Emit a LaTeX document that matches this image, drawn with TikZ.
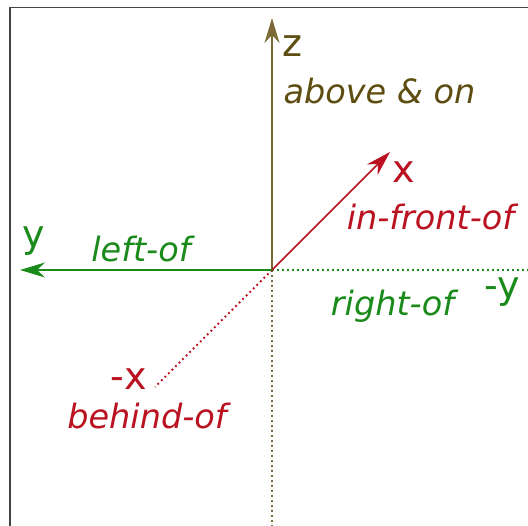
\documentclass[tikz,border=0pt]{standalone}
\usepackage{fontspec}
\setmainfont{DejaVu Sans}
\usetikzlibrary{arrows.meta}
\definecolor{zbrown}{HTML}{5E4D10}
\definecolor{zline}{HTML}{7A6A35}
\definecolor{xred}{HTML}{BA1220}
\definecolor{ygreen}{HTML}{1A8A1A}
\definecolor{framegray}{HTML}{444444}
\tikzset{
  axisline/.style={line width=1.6pt,-{Stealth[length=25pt,width=15pt,inset=8pt]}},
  negline/.style={line width=2pt,dash pattern=on 1.8pt off 3.2pt},
  axislabel/.style={inner sep=0pt,font=\fontsize{38}{41}\selectfont},
  rellabel/.style={inner sep=0pt,font=\fontsize{33.5}{37}\selectfont\itshape},
}
\begin{document}
\begin{tikzpicture}[x=1pt,y=1pt]
\useasboundingbox (-272,-256) rectangle (256,270);
\fill[white] (-272,-256) rectangle (256,270);
% frame
\draw[framegray,line width=1.1pt] (-262,-256) -- (-262,262.5) -- (256,262.5);
\coordinate (o) at (0,0);
\coordinate (zt) at (0,252);
\coordinate (zb) at (0,-256);
\coordinate (yt) at (-252,0);
\coordinate (yb) at (256,0);
\coordinate (xt) at (118,118);
\coordinate (xb) at (-117,-117);
% negative (dotted) halves
\draw[negline,zline] (o) -- (zb);
\draw[negline,ygreen] (o) -- (yb);
\draw[negline,xred] (o) -- (xb);
% positive axes
\draw[axisline,zline] (o) -- (zt);
\draw[axisline,ygreen] (o) -- (yt);
\draw[axisline,xred] (o) -- (xt);
% labels
\node[axislabel,text=zbrown] (lz) at (20.5,224) {z};
\node[rellabel,text=zbrown] (labove) at (107.5,178.5) {above \& on};
\node[axislabel,text=xred] (lx) at (132,98) {x};
\node[rellabel,text=xred] (lfront) at (158.5,53) {in-front-of};
\node[axislabel,text=ygreen] (ly) at (-238,28.5) {y};
\node[rellabel,text=ygreen] (lleft) at (-131,21) {left-of};
\node[axislabel,text=ygreen] (lny) at (230.5,-22) {-y};
\node[rellabel,text=ygreen] (lright) at (120.5,-36.5) {right-of};
\node[axislabel,text=xred] (lnx) at (-143.5,-109) {-x};
\node[rellabel,text=xred] (lbehind) at (-125,-146.5) {behind-of};
\end{tikzpicture}
\end{document}
